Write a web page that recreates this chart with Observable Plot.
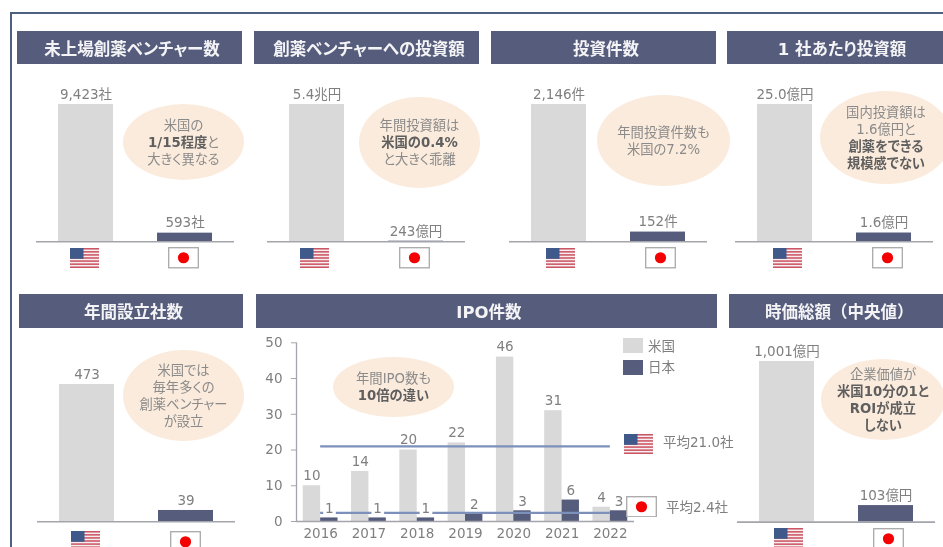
<!DOCTYPE html>
<html lang="ja">
<head>
<meta charset="utf-8">
<script src="https://cdn.jsdelivr.net/npm/d3@7"></script>
<script src="https://cdn.jsdelivr.net/npm/@observablehq/plot@0.6"></script>
<style>
  html,body{margin:0;padding:0;background:#fff;overflow:hidden}
  #page{position:relative;width:943px;height:547px;overflow:hidden;background:#fff;
    font-family:"DejaVu Sans","Noto Sans CJK JP",sans-serif;font-feature-settings:"palt";color:#7f7f7f;filter:blur(.35px)}
  #page svg{font-feature-settings:"palt"}
  .abs{position:absolute}
  .hdr{position:absolute;background:#565d7c;color:#f4f4f6;font-weight:700;font-size:16.5px;
    display:flex;align-items:center;justify-content:center;box-sizing:border-box;padding-left:5px;white-space:nowrap}
  .hdr.full{font-feature-settings:normal;padding-left:0;justify-content:flex-start;padding-left:36px}
  .blob{position:absolute;background:#fbebdc;border-radius:50%;display:flex;flex-direction:column;
    align-items:center;justify-content:center;font-size:13.3px;line-height:17px;color:#8a8a8a;white-space:nowrap}
  .blob b{color:#5f5f5f;font-weight:700}
  .lab{position:absolute;font-size:13.5px;line-height:18px;white-space:nowrap;color:#7f7f7f}
</style>
</head>
<body>
<div id="page"></div>
<script>
// ---------- data ----------
const countries = ["米国", "日本"];
const titles = ["未上場創薬ベンチャー数", "創薬ベンチャーへの投資額", "投資件数", "1 社あたり投資額", "年間設立社数", "時価総額(中央値)"];
const usValues = [9423, 54000, 2146, 25.0, 473, 1001];
const jpValues = [593, 243, 152, 1.6, 39, 103];
const usLabels = ["9,423社", "5.4兆円", "2,146件", "25.0億円", "473", "1,001億円"];
const jpLabels = ["593社", "243億円", "152件", "1.6億円", "39", "103億円"];
const notes = [
  ["米国の", "<b>1/15程度</b>と", "大きく異なる"],
  ["年間投資額は", "<b>米国の0.4%</b>", "と大きく乖離"],
  ["年間投資件数も", "米国の7.2%"],
  ["国内投資額は", "1.6億円と", "<b>創薬をできる</b>", "<b>規模感でない</b>"],
  ["米国では", "毎年多くの", "創薬ベンチャー", "が設立"],
  ["企業価値が", "<b>米国10分の1と</b>", "<b>ROIが成立</b>", "<b>しない</b>"]
];
const ipoTitle = "IPO件数";
const ipoYears = [2016, 2017, 2018, 2019, 2020, 2021, 2022];
const ipoUS = [10, 14, 20, 22, 46, 31, 4];
const ipoJP = [1, 1, 1, 2, 3, 6, 3];
const avgUS = 21.0;
const avgJP = 2.4;
const ipoNote = ["年間IPO数も", "<b>10倍の違い</b>"];

// ---------- layout (pixels on the page) ----------
const panelBoxes = [
  {hx:17, hy:31, hw:225, ax:36,  base:241.3, top:104, fx:[69.7,168.3], fy:[248,247.3], blob:[123,104,121,76]},
  {hx:254,hy:31, hw:225, ax:267, base:241.3, top:104, fx:[300,399.3],  fy:[248,247.3], blob:[359,97,121,91]},
  {hx:491,hy:31, hw:225, ax:509, base:241.3, top:104, fx:[546,645],    fy:[248,247.3], blob:[597,95,133,91]},
  {hx:727,hy:31, hw:225, ax:735, base:241.3, top:104, fx:[772.5,871.5],fy:[248,247.3], blob:[820,91,132,93]},
  {hx:19, hy:294,hw:224, ax:36.7,base:521.3, top:384, fx:[70.7,170],   fy:[531,531],   blob:[123,350,121,91]},
  {hx:729,hy:294,hw:225, ax:736.7,base:521.3,top:360.7,fx:[773.7,873], fy:[528,528],   blob:[821,359,124,81]}
];
const colUS = "#d9d9d9", colJP = "#565d7c", axisCol = "#a3a5ab", textCol = "#7f7f7f";
const fontFamily = '"DejaVu Sans","Noto Sans CJK JP",sans-serif';
const page = document.getElementById("page");

function add(html){ const t=document.createElement("template"); t.innerHTML=html.trim(); const n=t.content.firstChild; page.appendChild(n); return n; }
function place(node,x,y){ node.style.position="absolute"; node.style.left=x+"px"; node.style.top=y+"px"; page.appendChild(node); }

function flagUS(x,y){
  let s=`<svg class="abs" style="left:${x}px;top:${y}px" width="29" height="20" viewBox="0 0 29 20">`;
  s+=`<rect width="29" height="20" fill="#f7eef0"/>`;
  for(let i=0;i<7;i++) s+=`<rect y="${i*20/6.5}" width="29" height="1.54" fill="#cc5563"/>`;
  s+=`<rect width="13.5" height="10.8" fill="#3f5a8a"/></svg>`;
  add(s);
}
function flagJP(x,y){
  add(`<svg class="abs" style="left:${x}px;top:${y}px" width="31" height="21.5" viewBox="0 0 31 21.5"><rect x=".7" y=".7" width="29.6" height="20.1" fill="#fff" stroke="#a9a9a9" stroke-width="1.3"/><circle cx="15.5" cy="10.75" r="5.6" fill="#f40000"/></svg>`);
}

// outer frame
add(`<div class="abs" style="left:10px;top:12px;width:2px;height:535px;background:#4d6080"></div>`);
add(`<div class="abs" style="left:10px;top:12px;width:933px;height:2px;background:#4d6080"></div>`);

// six two-bar panels
titles.forEach((title,i)=>{
  const b=panelBoxes[i];
  const cls = i===5 ? "hdr full" : "hdr";
  const shown = i===5 ? "時価総額（中央値）" : title;
  add(`<div class="${cls}" style="left:${b.hx}px;top:${b.hy}px;width:${b.hw}px;height:${i<4?33:33.5}px">${shown}</div>`);
  const rows=countries.map((c,k)=>({c,v:k?jpValues[i]:usValues[i],t:k?jpLabels[i]:usLabels[i]}));
  const mt=30, mb=3;
  const chart=Plot.plot({
    width:198, height:b.base-b.top+mt+mb, marginTop:mt, marginBottom:mb, marginLeft:0, marginRight:0,
    style:{fontFamily,background:"transparent",overflow:"visible"},
    x:{domain:countries,paddingInner:0.44,paddingOuter:0.22,axis:null},
    y:{domain:[0,usValues[i]],axis:null},
    color:{domain:countries,range:[colUS,colJP]},
    marks:[
      Plot.barY(rows,{x:"c",y:"v",fill:"c"}),
      Plot.ruleY([0],{stroke:axisCol,strokeWidth:1.6}),
      Plot.text(rows,{x:"c",y:"v",text:"t",dy:-10,fontSize:13.5,fill:textCol})
    ]
  });
  place(chart,b.ax,b.top-mt);
  const [x,y,w,h]=b.blob;
  add(`<div class="blob" style="left:${x}px;top:${y}px;width:${w}px;height:${h}px">${notes[i].map(l=>`<div>${l}</div>`).join("")}</div>`);
  flagUS(b.fx[0],b.fy[0]);
  flagJP(b.fx[1],b.fy[1]);
});

// IPO panel
add(`<div class="hdr" style="left:256px;top:294px;width:461px;height:33.5px">${ipoTitle}</div>`);
const barW=0.36;
const rowsIPO=ipoYears.map((year,i)=>({year,us:ipoUS[i],jp:ipoJP[i]}));
const ipo=Plot.plot({
  width:400, height:212, marginTop:7.3, marginBottom:26, marginLeft:46, marginRight:16,
  style:{fontFamily,background:"transparent",overflow:"visible"},
  x:{domain:[2015.5,2022.5]},
  y:{domain:[0,50]},
  marks:[
    Plot.rect(rowsIPO,{x1:d=>d.year-barW,x2:d=>d.year,y1:()=>0,y2:"us",fill:colUS}),
    Plot.rect(rowsIPO,{x1:d=>d.year,x2:d=>d.year+barW,y1:()=>0,y2:"jp",fill:colJP}),
    Plot.text(rowsIPO,{x:d=>d.year-barW/2,y:"us",text:d=>String(d.us),dy:-10,fontSize:13.5,fill:textCol}),
    Plot.ruleX([2015.5],{stroke:axisCol,strokeWidth:1.3}),
    Plot.ruleY([0],{stroke:axisCol,strokeWidth:1.6}),
    Plot.ruleY([avgUS],{x1:ipoYears[0],x2:ipoYears[6],stroke:"#7c90b9",strokeWidth:2.2}),
    Plot.ruleY([avgJP],{x1:ipoYears[0],x2:ipoYears[6],stroke:"#7c90b9",strokeWidth:2.2}),
    Plot.text(rowsIPO,{x:d=>d.year+barW/2,y:"jp",text:d=>String(d.jp),dy:-9.5,fontSize:13.5,fill:textCol,stroke:"white",strokeWidth:7,paintOrder:"stroke",filter:d=>d.jp===1}),
    Plot.text(rowsIPO,{x:d=>d.year+barW/2,y:"jp",text:d=>String(d.jp),dy:-9.5,fontSize:13.5,fill:textCol,filter:d=>d.jp!==1}),
    Plot.axisY({ticks:[0,10,20,30,40,50],tickSize:5,tickPadding:9,fontSize:13.5,color:textCol,stroke:axisCol,label:null}),
    Plot.axisX({ticks:ipoYears,tickFormat:d=>String(d),tickSize:0,tickPadding:7,fontSize:13.5,color:textCol,label:null})
  ]
});
place(ipo,250,335);
add(`<div class="blob" style="left:333px;top:357px;width:121px;height:60px">${ipoNote.map(l=>`<div>${l}</div>`).join("")}</div>`);

// legend
add(`<div class="abs" style="left:623px;top:338px;width:20px;height:15px;background:${colUS}"></div>`);
add(`<div class="abs" style="left:623px;top:360px;width:20px;height:14.5px;background:${colJP}"></div>`);
add(`<div class="lab" style="left:648px;top:337px">${countries[0]}</div>`);
add(`<div class="lab" style="left:648px;top:358px">${countries[1]}</div>`);

// average annotations
flagUS(624,434);
add(`<div class="lab" style="left:663px;top:433px">平均${avgUS.toFixed(1)}社</div>`);
flagJP(625.5,495.5);
add(`<div class="lab" style="left:666px;top:498px">平均${avgJP.toFixed(1)}社</div>`);
</script>
</body>
</html>
